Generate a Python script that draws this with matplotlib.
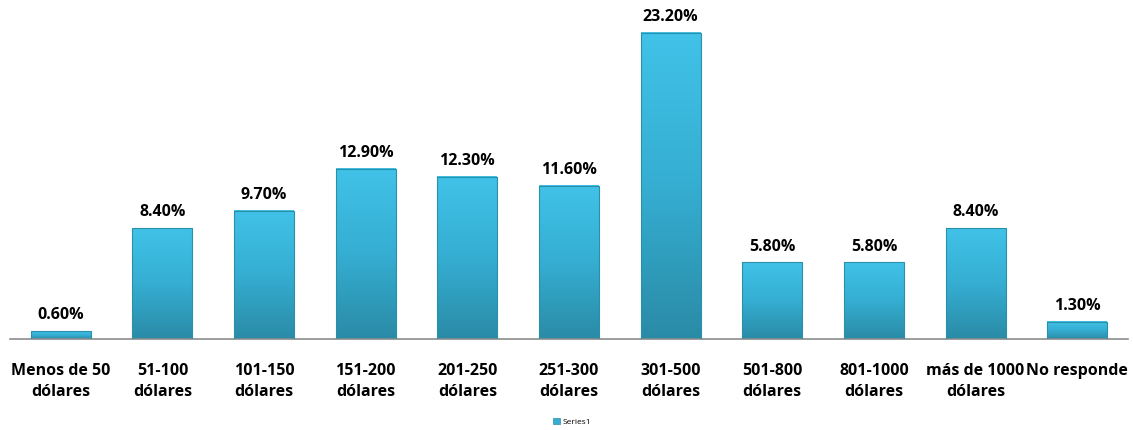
import numpy as np
import matplotlib
matplotlib.use("Agg")
import matplotlib.pyplot as plt
from matplotlib.colors import LinearSegmentedColormap
from matplotlib.patches import Patch

categories = ["Menos de 50\ndólares", "51-100\ndólares", "101-150\ndólares",
              "151-200\ndólares", "201-250\ndólares", "251-300\ndólares",
              "301-500\ndólares", "501-800\ndólares", "801-1000\ndólares",
              "más de 1000\ndólares", "No responde"]
values = [0.6, 8.4, 9.7, 12.9, 12.3, 11.6, 23.2, 5.8, 5.8, 8.4, 1.3]

plt.rcParams['font.family'] = ['Open Sans', 'DejaVu Sans']

fig = plt.figure(figsize=(11.33, 4.30), dpi=100)
ax = fig.add_axes([10 / 1133, 1 - 339 / 430, 1118 / 1133, 330 / 430])

cmap = LinearSegmentedColormap.from_list("bar", ["#2a8ba6", "#35aed2", "#41c2e8"])
grad = np.linspace(0, 1, 256).reshape(-1, 1)

x = np.arange(len(values))
width = 0.59
bars = ax.bar(x, values, width=width, color="none", edgecolor="#2b8faa", linewidth=0.8, zorder=3)
for xi, v in zip(x, values):
    ax.imshow(grad, extent=(xi - width / 2, xi + width / 2, 0, v), origin="lower",
              cmap=cmap, aspect="auto", zorder=2)
    ax.text(xi, v + 0.6, f"{v:.2f}%", ha="center", va="bottom",
            fontsize=11.5, fontweight="bold", color="#000000")

ax.set_xlim(-0.5, len(values) - 0.5)
ax.set_ylim(0, 25.0)
ax.set_xticks(x)
ax.set_xticklabels(categories, fontsize=11.5, fontweight="bold", linespacing=1.45)
ax.tick_params(axis="x", length=0, pad=17)
ax.set_yticks([])
for s in ["top", "right", "left"]:
    ax.spines[s].set_visible(False)
ax.spines["bottom"].set_color("#8c8c8c")
ax.spines["bottom"].set_linewidth(1.2)

handle = Patch(facecolor="#35aed2", edgecolor="#2b8faa", linewidth=0.5)
fig.legend([handle], ["Series1"], loc="center", bbox_to_anchor=(572 / 1133, 1 - 422 / 430),
           frameon=False, fontsize=6, handlelength=0.8, handleheight=0.8, handletextpad=0.3)

fig.savefig("out.png", dpi=100)
